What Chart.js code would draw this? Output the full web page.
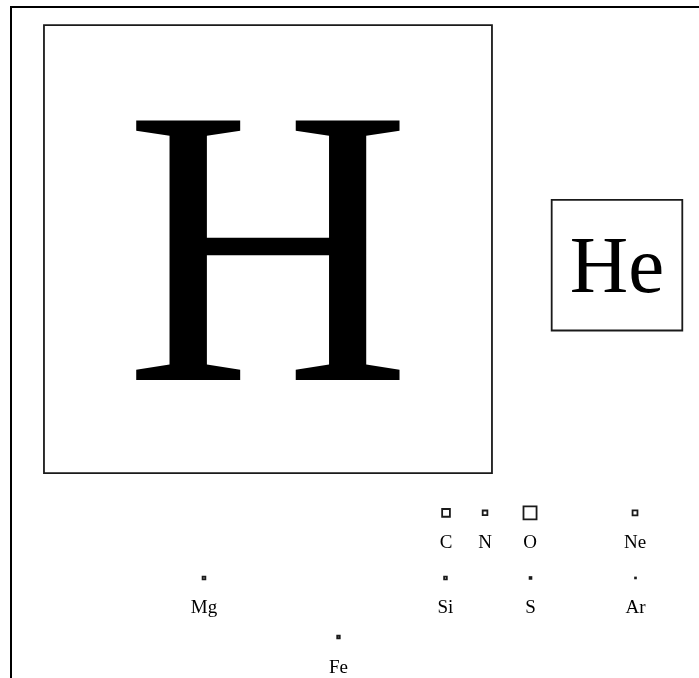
<!DOCTYPE html>
<html>
<head>
<meta charset="utf-8">
<script src="https://cdn.jsdelivr.net/npm/chart.js@4.4.1/dist/chart.umd.min.js"></script>
<style>
  html, body { margin: 0; padding: 0; background: #fff; }
  #wrap { width: 699px; height: 678px; }
</style>
</head>
<body>
<div id="wrap"><canvas id="abundChart" width="699" height="678"></canvas></div>
<script>
'use strict';

// element symbols
var elements = ['H', 'He', 'C', 'N', 'O', 'Ne', 'Mg', 'Si', 'S', 'Ar', 'Fe'];
// abundance by number, relative to hydrogen (box area is proportional to it)
var abundance = [1, 0.085, 3.0e-4, 1.1e-4, 8.5e-4, 1.2e-4, 3.8e-5, 3.6e-5, 1.6e-5, 3.6e-6, 3.2e-5];
// layout position of each box (0-100 across, 0-100 down)
var posX = [37.35, 88.08, 63.23, 68.90, 75.44, 90.70, 28.05, 63.15, 75.51, 90.77, 47.60];
var posY = [36.09, 38.48, 75.39, 75.39, 75.39, 75.39, 85.09, 85.09, 85.09, 85.09, 93.89];

// styling
var H_SIDE = 448;          // px side of the hydrogen square
var BOX_BORDER = 1.8;
var BOX_COLOR = '#1a1a1a';
var SERIF = '"Liberation Serif", "DejaVu Serif", serif';
var LABEL_SIZE = 19;
var LABEL_OFFSET = 35.5;

function sideFor(ab) {
  return H_SIDE * Math.sqrt(ab);
}

var points = [];
for (var i = 0; i < elements.length; i++) {
  points.push({x: posX[i], y: posY[i]});
}

// draw the symbols: big ones inside their box, small ones underneath
var symbolLabels = {
  id: 'symbolLabels',
  afterDatasetsDraw: function(chart) {
    var ctx = chart.ctx;
    var meta = chart.getDatasetMeta(0);
    ctx.save();
    ctx.fillStyle = '#000';
    ctx.textAlign = 'center';
    ctx.textBaseline = 'alphabetic';
    meta.data.forEach(function(pt, i) {
      var side = sideFor(abundance[i]);
      var name = elements[i];
      if (side > 60) {
        var fs = side * (name.length === 1 ? 0.885 : 0.62);
        ctx.font = fs + 'px ' + SERIF;
        ctx.fillText(name, pt.x, pt.y + fs * 0.33);
      } else {
        ctx.font = LABEL_SIZE + 'px ' + SERIF;
        ctx.fillText(name, pt.x, pt.y + LABEL_OFFSET);
      }
    });
    ctx.restore();
  }
};

var ctx = document.getElementById('abundChart').getContext('2d');
var abundChart = new Chart(ctx, {
  type: 'scatter',
  data: {
    datasets: [{
      data: points,
      pointStyle: 'rect',
      pointRadius: function(c) { return sideFor(abundance[c.dataIndex]) / Math.SQRT2; },
      pointBackgroundColor: 'rgba(255,255,255,0)',
      pointBorderColor: BOX_COLOR,
      pointBorderWidth: BOX_BORDER,
      clip: false
    }]
  },
  options: {
    responsive: false,
    animation: false,
    events: [],
    layout: { autoPadding: false, padding: { left: 11, top: 7, right: 0, bottom: 0 } },
    plugins: {
      legend: { display: false },
      tooltip: { enabled: false }
    },
    scales: {
      x: {
        type: 'linear',
        position: 'top',
        min: 0,
        max: 100,
        ticks: { display: false },
        grid: { display: false, drawTicks: false },
        border: { display: true, color: '#000', width: 2 }
      },
      y: {
        type: 'linear',
        position: 'left',
        reverse: true,
        min: 0,
        max: 100,
        ticks: { display: false },
        grid: { display: false, drawTicks: false },
        border: { display: true, color: '#000', width: 2 }
      }
    }
  },
  plugins: [symbolLabels]
});
</script>
</body>
</html>
